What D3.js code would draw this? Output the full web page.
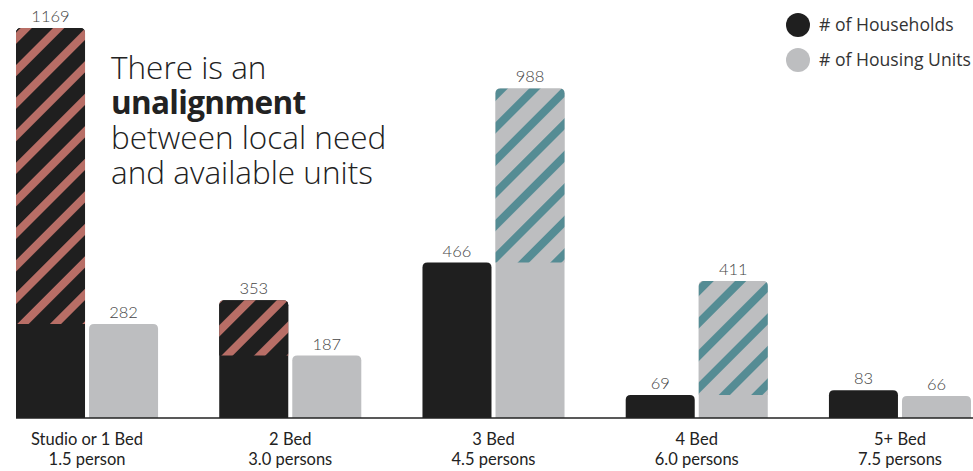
<!DOCTYPE html>
<html>
<head>
<meta charset="utf-8">
<script src="https://cdn.jsdelivr.net/npm/d3@7"></script>
<style>
  body { margin: 0; background: #fff; }
  svg { display: block; }
</style>
</head>
<body>
<svg id="chart" width="973" height="471"></svg>
<script>
// data
const categories = ["Studio or 1 Bed", "2 Bed", "3 Bed", "4 Bed", "5+ Bed"];
const subLabels = ["1.5 person", "3.0 persons", "4.5 persons", "6.0 persons", "7.5 persons"];
const households = [1169, 353, 466, 69, 83];
const housingUnits = [282, 187, 988, 411, 66];
const showGap = [true, true, true, true, false];
const seriesNames = ["# of Households", "# of Housing Units"];

const svg = d3.select("#chart");
const baseY = 418;

const colorBlack = "#1f1f1f";
const colorGray = "#bdbec0";
const hatchRed = "#b86e66";
const hatchTeal = "#558c94";

// scales
const x = d3.scaleBand()
    .domain(categories)
    .range([16, 971])
    .paddingInner(0.301)
    .paddingOuter(0);

const xSub = d3.scaleBand()
    .domain([0, 1])
    .range([0, x.bandwidth()])
    .paddingInner(0.055);

const y = d3.scaleLinear()
    .domain([0, 1169])
    .range([baseY, 28]);

// hatch patterns
const defs = svg.append("defs");
function makePattern(id, bg, stripe) {
    const p = defs.append("pattern")
        .attr("id", id)
        .attr("patternUnits", "userSpaceOnUse")
        .attr("width", 23)
        .attr("height", 23)
        .attr("patternTransform", "rotate(45)");
    p.append("rect").attr("width", 23).attr("height", 23).attr("fill", bg);
    p.append("rect").attr("width", 8).attr("height", 23).attr("fill", stripe);
}
makePattern("hatch-red", colorBlack, hatchRed);
makePattern("hatch-teal", colorGray, hatchTeal);

// bar with rounded top corners only
function topRounded(x0, w, yTop, yBot, r) {
    r = Math.min(r, w / 2, (yBot - yTop));
    return `M${x0},${yBot}V${yTop + r}Q${x0},${yTop} ${x0 + r},${yTop}` +
        `H${x0 + w - r}Q${x0 + w},${yTop} ${x0 + w},${yTop + r}V${yBot}Z`;
}

const rows = categories.map((c, i) => ({
    cat: c, sub: subLabels[i], hh: households[i], hu: housingUnits[i], gap: showGap[i]
}));

const groups = svg.append("g").selectAll("g")
    .data(rows)
    .join("g")
    .attr("transform", d => `translate(${x(d.cat)},0)`);

const bw = xSub.bandwidth();

[0, 1].forEach(s => {
    const val = d => s === 0 ? d.hh : d.hu;
    const other = d => s === 0 ? d.hu : d.hh;

    groups.append("path")
        .attr("d", d => topRounded(xSub(s), bw, y(val(d)), baseY, 5))
        .attr("fill", s === 0 ? colorBlack : colorGray);

    // hatched overflow above the other series
    groups.filter(d => d.gap && val(d) > other(d))
        .append("path")
        .attr("d", d => topRounded(xSub(s), bw, y(val(d)), y(other(d)), 5))
        .attr("fill", s === 0 ? "url(#hatch-red)" : "url(#hatch-teal)");

    groups.append("text")
        .attr("x", xSub(s) + bw / 2)
        .attr("y", d => y(val(d)) - 6)
        .attr("text-anchor", "middle")
        .attr("font-family", "Lato, 'Noto Sans', sans-serif")
        .attr("font-weight", 300)
        .attr("font-size", 16.5)
        .attr("fill", "#444")
        .text(d => val(d));
});

// baseline
svg.append("line")
    .attr("x1", 16).attr("x2", 973)
    .attr("y1", baseY).attr("y2", baseY)
    .attr("stroke", "#222")
    .attr("stroke-width", 1.5);

// category labels
const xl = svg.append("g")
    .attr("font-family", "Lato, 'Noto Sans', sans-serif")
    .attr("font-size", 16.5)
    .attr("fill", "#222")
    .attr("text-anchor", "middle");

xl.selectAll("text.cat")
    .data(rows)
    .join("text")
    .attr("class", "cat")
    .attr("x", d => x(d.cat) + x.bandwidth() / 2)
    .attr("y", 445)
    .text(d => d.cat);

xl.selectAll("text.sub")
    .data(rows)
    .join("text")
    .attr("class", "sub")
    .attr("x", d => x(d.cat) + x.bandwidth() / 2)
    .attr("y", 465)
    .text(d => d.sub);

// legend
const legend = svg.append("g").attr("transform", "translate(798,25)");
seriesNames.forEach((name, i) => {
    const row = legend.append("g").attr("transform", `translate(0,${i * 35})`);
    row.append("circle")
        .attr("r", 12)
        .attr("fill", i === 0 ? colorBlack : colorGray);
    row.append("text")
        .attr("x", 21)
        .attr("y", 6)
        .attr("font-family", "'Open Sans', sans-serif")
        .attr("font-size", 17.6)
        .attr("fill", "#333")
        .text(name);
});

// annotation
const note = svg.append("text")
    .attr("font-family", "'Open Sans', sans-serif")
    .attr("font-size", 31.5)
    .attr("font-weight", 300)
    .attr("fill", "#222");
const noteLines = [
    { t: "There is an", bold: false },
    { t: "unalignment", bold: true },
    { t: "between local need", bold: false },
    { t: "and available units", bold: false }
];
noteLines.forEach((l, i) => {
    note.append("tspan")
        .attr("x", 111)
        .attr("y", 79 + i * 35)
        .attr("font-weight", l.bold ? 700 : 300)
        .attr("letter-spacing", l.bold ? -0.7 : 0)
        .text(l.t);
});
</script>
</body>
</html>
